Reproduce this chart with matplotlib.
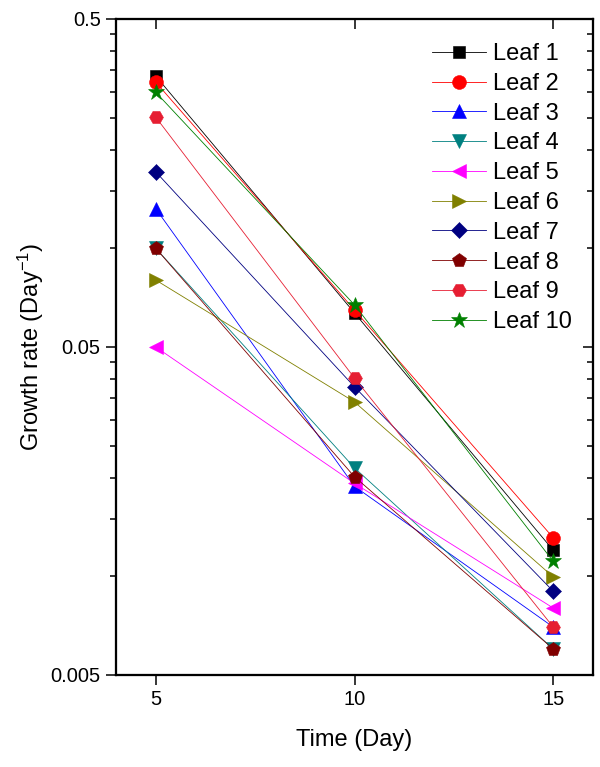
import numpy as np
import matplotlib
matplotlib.use("Agg")
import matplotlib.pyplot as plt
from matplotlib.ticker import FixedLocator, NullFormatter

plt.rcParams["font.family"] = ["Liberation Sans", "DejaVu Sans"]
plt.rcParams["mathtext.fontset"] = "custom"
plt.rcParams["mathtext.rm"] = "Liberation Sans"
plt.rcParams["mathtext.it"] = "Liberation Sans:italic"

# data
days = [5, 10, 15]
labels = ["Leaf 1", "Leaf 2", "Leaf 3", "Leaf 4", "Leaf 5",
          "Leaf 6", "Leaf 7", "Leaf 8", "Leaf 9", "Leaf 10"]
leaf1 = [0.335, 0.0635, 0.0120]
leaf2 = [0.321, 0.0648, 0.0131]
leaf3 = [0.132, 0.0188, 0.0070]
leaf4 = [0.100, 0.0214, 0.0060]
leaf5 = [0.050, 0.0192, 0.0080]
leaf6 = [0.080, 0.0340, 0.00995]
leaf7 = [0.171, 0.0378, 0.0090]
leaf8 = [0.100, 0.0201, 0.0060]
leaf9 = [0.251, 0.0402, 0.0070]
leaf10 = [0.299, 0.0672, 0.0111]
series = [leaf1, leaf2, leaf3, leaf4, leaf5, leaf6, leaf7, leaf8, leaf9, leaf10]

colors = ["#000000", "#FF0000", "#0000FF", "#008080", "#FF00FF",
          "#808000", "#000080", "#800000", "#E61E32", "#008000"]
markers = ["s", "o", "^", "v", "<", ">", "D", "p", "H", "*"]
msizes = [8, 10, 10, 10, 10, 10, 8, 10, 10, 12]

fig = plt.figure(figsize=(6, 7.67), dpi=100)
ax = fig.add_axes([116 / 600, 1 - 675 / 767, (593 - 116) / 600, (675 - 19) / 767])

for vals, lab, c, m, ms in zip(series, labels, colors, markers, msizes):
    ax.plot(days, vals, color=c, lw=0.6, marker=m, ms=ms, mfc=c, mec=c,
            mew=0.4, label=lab)

ax.set_yscale("log")
ax.set_ylim(0.005, 0.5)
ax.set_xlim(4, 16)

major_y = [0.005, 0.05, 0.5]
minor_y = [b * k for b in [0.005, 0.05] for k in range(2, 10)]
ax.yaxis.set_major_locator(FixedLocator(major_y))
ax.yaxis.set_minor_locator(FixedLocator(minor_y))
ax.yaxis.set_minor_formatter(NullFormatter())
ax.set_yticklabels(["0.005", "0.05", "0.5"])
ax.set_xticks([5, 10, 15])

ax.tick_params(which="major", direction="out", length=7, width=1.1,
               labelsize=14.5, pad=4)
ax.tick_params(which="minor", direction="out", length=4.5, width=1.1)
ax.tick_params(axis="x", which="minor", bottom=False)
for sp in ax.spines.values():
    sp.set_linewidth(1.5)

# mirrored inward ticks on top and right
ax_r = ax.twinx()
ax_r.set_yscale("log")
ax_r.set_ylim(ax.get_ylim())
ax_r.yaxis.set_major_locator(FixedLocator(major_y))
ax_r.yaxis.set_minor_locator(FixedLocator(minor_y))
ax_r.tick_params(which="major", direction="in", length=7, width=1.1, labelright=False)
ax_r.tick_params(which="minor", direction="in", length=4.5, width=1.1, labelright=False)
ax_t = ax.twiny()
ax_t.set_xlim(ax.get_xlim())
ax_t.set_xticks([5, 10, 15])
ax_t.tick_params(direction="in", length=7, width=1.1, labeltop=False)
ax_t.tick_params(which="minor", top=False)
for a in (ax_r, ax_t):
    for sp in a.spines.values():
        sp.set_linewidth(1.5)

ax.set_xlabel("Time (Day)", fontsize=17, labelpad=14)
ax.set_ylabel("Growth rate (Day$^{-1}$)", fontsize=17, labelpad=3)

ax.legend(loc="upper left", bbox_to_anchor=(432 / 600, 1 - 43 / 767),
          bbox_transform=fig.transFigure, frameon=False, fontsize=17,
          handlelength=2.3, handletextpad=0.3, labelspacing=0.33,
          borderpad=0, borderaxespad=0)

fig.savefig("out.png", dpi=100)
